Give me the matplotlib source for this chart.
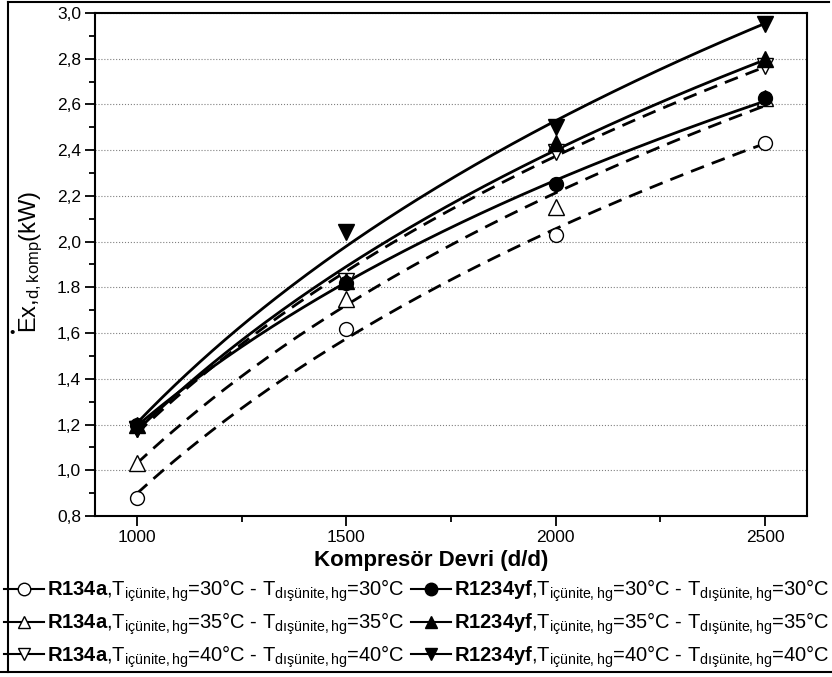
import numpy as np
import matplotlib
matplotlib.use("Agg")
import matplotlib.pyplot as plt
from matplotlib.lines import Line2D
from matplotlib.ticker import MultipleLocator, FixedLocator, FixedFormatter

plt.rcParams['font.family'] = ['Liberation Sans', 'DejaVu Sans']
plt.rcParams['mathtext.fontset'] = 'custom'
plt.rcParams['mathtext.rm'] = 'Liberation Sans'
plt.rcParams['mathtext.it'] = 'Liberation Sans:italic'
plt.rcParams['mathtext.bf'] = 'Liberation Sans:bold'

# compressor speed (d/d)
devir = [1000, 1500, 2000, 2500]

# exergy destruction of compressor (kW)
r134a_30 = [0.88, 1.62, 2.03, 2.43]
r134a_35 = [1.03, 1.75, 2.15, 2.63]
r134a_40 = [1.18, 1.83, 2.39, 2.77]
r1234yf_30 = [1.20, 1.82, 2.25, 2.63]
r1234yf_35 = [1.20, 1.83, 2.43, 2.80]
r1234yf_40 = [1.18, 2.04, 2.50, 2.95]

# y tick labels as printed (one of them uses a dot)
y_ticks = [0.8, 1.0, 1.2, 1.4, 1.6, 1.8, 2.0, 2.2, 2.4, 2.6, 2.8, 3.0]
y_labels = ["0,8", "1,0", "1,2", "1,4", "1,6", "1.8", "2,0", "2,2", "2,4", "2,6", "2,8", "3,0"]


def etiket(gaz, t):
    return (r"$\bf{" + gaz + r"}$,T$_{\rm içünite,hg}$=" + f"{t}°C - " +
            r"T$_{\rm dışünite,hg}$=" + f"{t}°C")


W, H = 832, 677
fig = plt.figure(figsize=(W / 100, H / 100), dpi=100)
ax = fig.add_axes([95 / W, 1 - 516 / H, (807 - 95) / W, (516 - 13) / H])

series = [
    ("R134a", r134a_30, 'o', 'white', '--', 30),
    ("R134a", r134a_35, '^', 'white', '--', 35),
    ("R134a", r134a_40, 'v', 'white', '--', 40),
    ("R1234yf", r1234yf_30, 'o', 'black', '-', 30),
    ("R1234yf", r1234yf_35, '^', 'black', '-', 35),
    ("R1234yf", r1234yf_40, 'v', 'black', '-', 40),
]

handles = []
xs = np.linspace(devir[0], devir[-1], 200)
for gaz, vals, mk, fc, ls, t in series:
    # logarithmic trend line, y = a + b*ln(x)
    coef = np.polyfit(np.log(devir), vals, 1)
    line, = ax.plot(xs, np.polyval(coef, np.log(xs)), color='black', ls=ls,
                    lw=2, zorder=2)
    if ls == '--':
        line.set_dashes((5, 3))
    ms = 10 if mk == 'o' else 11.5
    ax.plot(devir, vals, ls='none', marker=mk, ms=ms, mfc=fc,
            mec='black', mew=1, zorder=3)
    h, = ax.plot([], [], color='black', ls='-', lw=1.5, marker=mk, ms=9,
                 mfc=fc, mec='black', mew=1, label=etiket(gaz, t))
    handles.append(h)

ax.set_xlim(900, 2600)
ax.set_ylim(0.8, 3.0)
ax.xaxis.set_major_locator(MultipleLocator(500))
ax.xaxis.set_minor_locator(MultipleLocator(250))
ax.yaxis.set_major_locator(FixedLocator(y_ticks))
ax.yaxis.set_major_formatter(FixedFormatter(y_labels))
ax.yaxis.set_minor_locator(MultipleLocator(0.1))
ax.tick_params(which='both', direction='out', labelsize=12.5, width=1.3)
ax.tick_params(which='major', length=7, pad=3)
ax.tick_params(which='minor', length=4)
for s in ax.spines.values():
    s.set_linewidth(1.5)
ax.grid(axis='y', which='major', ls=':', color='gray', lw=0.8)
ax.set_axisbelow(True)

ax.set_xlabel("Kompresör Devri (d/d)", fontsize=16, fontweight='bold', va='top')
ax.xaxis.set_label_coords((431 - 95) / 712, -(550 - 516) / 503)
ax.set_ylabel(r"Ex,$_{\rm d,komp}$(kW)", fontsize=17, va='center')
ax.yaxis.set_label_coords(-(95 - 31) / 712, (516 - 262) / 503)
fig.text(12 / W, 1 - 333 / H, "•", fontsize=11, ha='center', va='center')

fig.legend(handles=handles, ncols=2, loc='upper left',
           bbox_to_anchor=(4 / W, 1 - 578 / H), frameon=False,
           fontsize=14.5, handlelength=2.0, handletextpad=0.15,
           columnspacing=0.3, labelspacing=0.3, borderaxespad=0.0,
           borderpad=0.0)

# outer frame of the picture
for xy in [([8, 8], [2, 672]), ([8, 829], [2, 2]), ([0, 832], [672, 672])]:
    fig.add_artist(Line2D([v / W for v in xy[0]], [1 - v / H for v in xy[1]],
                          transform=fig.transFigure, color='black', lw=1.5))

fig.savefig("out.png", dpi=100)
